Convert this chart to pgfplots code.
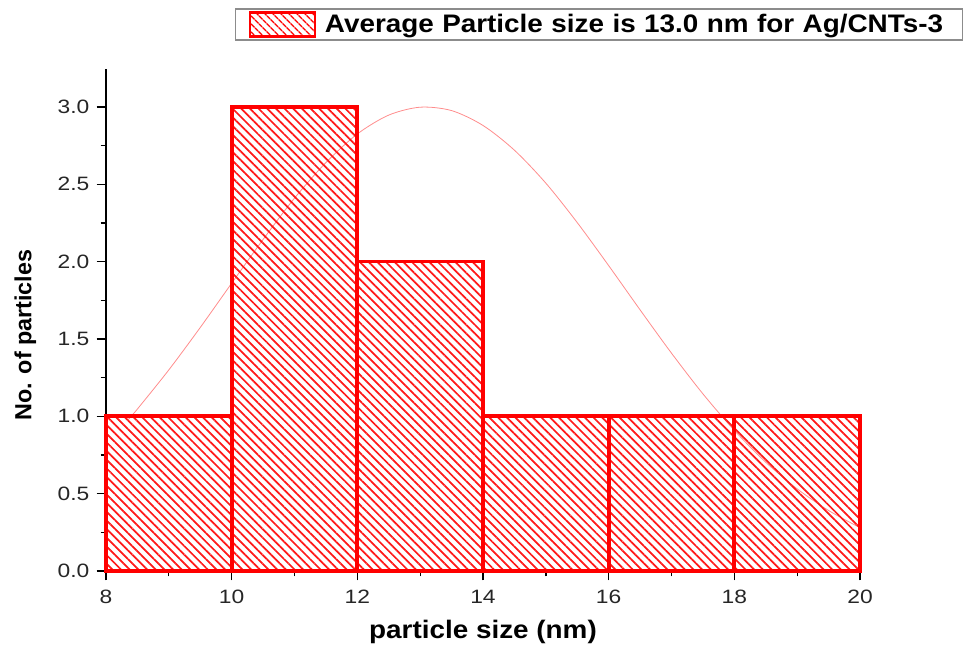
\documentclass[border=0pt]{standalone}
\usepackage{fontspec}
\setmainfont{Liberation Sans}
\newfontfamily\tickfont{Liberation Sans}[FakeStretch=1.18]
\newfontfamily\labfont{Liberation Sans}[FakeStretch=1.1]
\usepackage{pgfplots}
\pgfplotsset{compat=1.18}
\usetikzlibrary{patterns.meta}
\begin{document}
\begin{tikzpicture}[x=0.75pt,y=0.75pt]
\useasboundingbox (-106,-77) rectangle (858,571);
\begin{axis}[
  at={(0,0)}, anchor=south west,
  scale only axis, width=565.5pt, height=376.5pt,
  xmin=8, xmax=20, ymin=0, ymax=3.245,
  axis lines*=left,
  axis line style={black, line width=1.1pt},
  tick align=outside,
  major tick length=7pt, minor tick length=4pt,
  every tick/.style={black, line width=1pt},
  xtick={8,10,...,20}, minor x tick num=1,
  ytick={0,0.5,...,3.0}, minor y tick num=1,
  yticklabel style={xshift=-2pt, /pgf/number format/.cd, fixed, fixed zerofill, precision=1},
  /pgf/number format/assume math mode=true,
  ticklabel style={font=\tickfont\fontsize{14.5}{15}\selectfont, text=black!85},
  xticklabel style={yshift=-4pt},
  xlabel={particle size (nm)},
  ylabel={No. of particles},
  xlabel style={font=\labfont\bfseries\fontsize{19}{20}\selectfont,
    at={(axis description cs:0.5,-0.1215)}, anchor=center},
  ylabel style={font=\bfseries\fontsize{17.5}{18}\selectfont,
    at={(axis description cs:-0.107,0.47)}, anchor=center},
  legend style={at={(0.171,1.121)}, anchor=north west, draw=black!45, line width=1pt,
    font=\labfont\bfseries\fontsize{19}{20}\selectfont, inner xsep=10pt, inner ysep=2pt,
    text width=466pt, cells={anchor=west}},
  legend image code/.code={
    \draw[red, line width=1.8pt, pattern={Lines[angle=-45,distance=4pt,line width=1.2pt]}, pattern color=red]
      (0pt,-9pt) rectangle (49pt,9pt);
    \path (53pt,0pt);
  },
  clip=false,
]
\addplot[red!45, line width=0.6pt, smooth, forget plot] coordinates {
(8.35,0.977) (8.5,1.047) (9.0,1.30) (9.5,1.574) (10,1.86) (10.5,2.143) (11,2.41)
(11.5,2.64) (12,2.825) (12.5,2.947) (13.0,2.998) (13.5,2.976) (14,2.88) (14.5,2.72)
(15,2.507) (15.5,2.252) (16,1.974) (16.5,1.688) (17,1.408) (17.5,1.145) (18,0.909)
(18.5,0.703) (19,0.531) (19.5,0.391) (20,0.28)};
\addplot[ybar interval, draw=red, line width=2.8pt,
  pattern={Lines[angle=-45,distance=4.6pt,line width=1.3pt]}, pattern color=red!90]
  coordinates {(8,1) (10,3) (12,2) (14,1) (16,1) (18,1) (20,1)};
\addlegendentry{Average Particle size is 13.0 nm for Ag/CNTs-3}
\end{axis}
\end{tikzpicture}
\end{document}
